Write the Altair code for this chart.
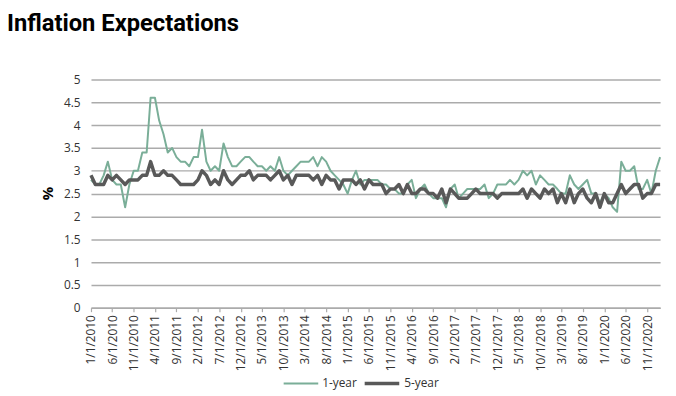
import altair as alt
import pandas as pd

# ---- data (monthly, Jan 2010 - Feb 2021) ----
one_year = [
    2.8, 2.7, 2.7, 2.9, 3.2, 2.8, 2.7, 2.7, 2.2, 2.7, 3.0, 3.0,   # 2010
    3.4, 3.4, 4.6, 4.6, 4.1, 3.8, 3.4, 3.5, 3.3, 3.2, 3.2, 3.1,   # 2011
    3.3, 3.3, 3.9, 3.2, 3.0, 3.1, 3.0, 3.6, 3.3, 3.1, 3.1, 3.2,   # 2012
    3.3, 3.3, 3.2, 3.1, 3.1, 3.0, 3.1, 3.0, 3.3, 3.0, 2.9, 3.0,   # 2013
    3.1, 3.2, 3.2, 3.2, 3.3, 3.1, 3.3, 3.2, 3.0, 2.9, 2.8, 2.7,   # 2014
    2.5, 2.8, 3.0, 2.7, 2.8, 2.8, 2.8, 2.8, 2.7, 2.7, 2.6, 2.6,   # 2015
    2.5, 2.5, 2.7, 2.8, 2.4, 2.6, 2.7, 2.5, 2.4, 2.4, 2.4, 2.2,   # 2016
    2.6, 2.7, 2.4, 2.5, 2.6, 2.6, 2.6, 2.6, 2.7, 2.4, 2.5, 2.7,   # 2017
    2.7, 2.7, 2.8, 2.7, 2.8, 3.0, 2.9, 3.0, 2.7, 2.9, 2.8, 2.7,   # 2018
    2.7, 2.6, 2.5, 2.5, 2.9, 2.7, 2.6, 2.7, 2.8, 2.5, 2.5, 2.3,   # 2019
    2.5, 2.4, 2.2, 2.1, 3.2, 3.0, 3.0, 3.1, 2.6, 2.6, 2.8, 2.5,   # 2020
    3.0, 3.3,                                                     # 2021
]
five_year = [
    2.9, 2.7, 2.7, 2.7, 2.9, 2.8, 2.9, 2.8, 2.7, 2.8, 2.8, 2.8,   # 2010
    2.9, 2.9, 3.2, 2.9, 2.9, 3.0, 2.9, 2.9, 2.8, 2.7, 2.7, 2.7,   # 2011
    2.7, 2.8, 3.0, 2.9, 2.7, 2.8, 2.7, 3.0, 2.8, 2.7, 2.8, 2.9,   # 2012
    2.9, 3.0, 2.8, 2.9, 2.9, 2.9, 2.8, 2.9, 3.0, 2.8, 2.9, 2.7,   # 2013
    2.9, 2.9, 2.9, 2.9, 2.8, 2.9, 2.7, 2.9, 2.8, 2.8, 2.6, 2.8,   # 2014
    2.8, 2.8, 2.7, 2.8, 2.6, 2.8, 2.7, 2.7, 2.7, 2.5, 2.6, 2.6,   # 2015
    2.7, 2.5, 2.7, 2.5, 2.5, 2.6, 2.6, 2.5, 2.5, 2.4, 2.6, 2.3,   # 2016
    2.6, 2.5, 2.4, 2.4, 2.4, 2.5, 2.6, 2.5, 2.5, 2.5, 2.5, 2.4,   # 2017
    2.5, 2.5, 2.5, 2.5, 2.5, 2.6, 2.4, 2.6, 2.5, 2.4, 2.6, 2.5,   # 2018
    2.6, 2.3, 2.5, 2.3, 2.6, 2.3, 2.5, 2.6, 2.4, 2.3, 2.5, 2.2,   # 2019
    2.5, 2.3, 2.3, 2.5, 2.7, 2.5, 2.6, 2.7, 2.7, 2.4, 2.5, 2.5,   # 2020
    2.7, 2.7,                                                     # 2021
]
series_names = ["1-year", "5-year"]
series_colors = ["#7AAE98", "#595959"]
tick_label_dates = [
    "2010-01-01", "2010-06-01", "2010-11-01", "2011-04-01", "2011-09-01",
    "2012-02-01", "2012-07-01", "2012-12-01", "2013-05-01", "2013-10-01",
    "2014-03-01", "2014-08-01", "2015-01-01", "2015-06-01", "2015-11-01",
    "2016-04-01", "2016-09-01", "2017-02-01", "2017-07-01", "2017-12-01",
    "2018-05-01", "2018-10-01", "2019-03-01", "2019-08-01", "2020-01-01",
    "2020-06-01", "2020-11-01",
]
y_ticks = [0, 0.5, 1, 1.5, 2, 2.5, 3, 3.5, 4, 4.5, 5]

months = pd.date_range("2010-01-01", periods=len(one_year), freq="MS")
month_str = [d.strftime("%Y-%m-%d") for d in months]

rows = []
for name, vals in zip(series_names, [one_year, five_year]):
    for d, v in zip(month_str, vals):
        rows.append({"date": d, "value": v, "series": name})
df = pd.DataFrame(rows)


def ms(s):
    return int(pd.Timestamp(s, tz="UTC").value // 10**6)


x_domain = [ms(month_str[0]), ms(month_str[-1])]
tick_ms = [ms(s) for s in tick_label_dates]

FONT = "Open Sans"
GRID = "#ABABAB"

legend_opts = dict(
    title=None,
    orient="none",
    legendX=194,
    legendY=288,
    direction="horizontal",
    symbolType="stroke",
    symbolSize=1225,
    labelFont=FONT,
    labelFontSize=12,
    labelColor="#333333",
    labelOffset=3,
    columnPadding=0,
    padding=0,
)

chart = (
    alt.Chart(df)
    .mark_line(strokeJoin="round")
    .encode(
        x=alt.X(
            "date:T",
            scale=alt.Scale(type="utc", domain=x_domain),
            axis=alt.Axis(
                values=tick_ms,
                labelExpr="utcFormat(datum.value, '%-m/%-d/%Y')",
                labelAngle=270,
                labelFont=FONT,
                labelFontSize=12,
                labelColor="#333333",
                labelPadding=3,
                labelOverlap=False,
                labelFlush=False,
                grid=False,
                domainColor=GRID,
                domainWidth=1.5,
                tickColor=GRID,
                tickSize=4,
                tickWidth=1.2,
            ),
            title=None,
        ),
        y=alt.Y(
            "value:Q",
            scale=alt.Scale(domain=[0, 5], nice=False),
            axis=alt.Axis(
                values=y_ticks,
                format="~g",
                labelFont=FONT,
                labelFontSize=12,
                labelColor="#333333",
                labelPadding=11,
                ticks=False,
                domain=False,
                gridColor=GRID,
                gridWidth=1.5,
                titleFont=FONT,
                titleFontSize=15,
                titleFontWeight="bold",
                titleColor="#000000",
                titleAngle=270,
                titleX=-44,
                titleY=115,
                titleAlign="center",
                titleBaseline="middle",
            ),
            title="%",
        ),
        color=alt.Color(
            "series:N",
            scale=alt.Scale(domain=series_names, range=series_colors),
            legend=alt.Legend(**legend_opts),
        ),
        strokeWidth=alt.StrokeWidth(
            "series:N",
            scale=alt.Scale(domain=series_names, range=[2, 3.5], padding=0),
            legend=alt.Legend(**legend_opts),
        ),
    )
    .properties(
        width=576,
        height=231,
        autosize=alt.AutoSizeParams(type="none"),
        padding={"left": 84, "top": 70, "right": 8, "bottom": 86},
        title=alt.TitleParams(
            "Inflation Expectations",
            anchor="start",
            frame="group",
            dx=-85,
            offset=19,
            baseline="alphabetic",
            font="Roboto",
            fontSize=24,
            fontWeight="bold",
            color="#000000",
        ),
    )
    .configure_view(stroke=None)
)

chart.save("out.html", embed_options={"renderer": "svg", "actions": False})
